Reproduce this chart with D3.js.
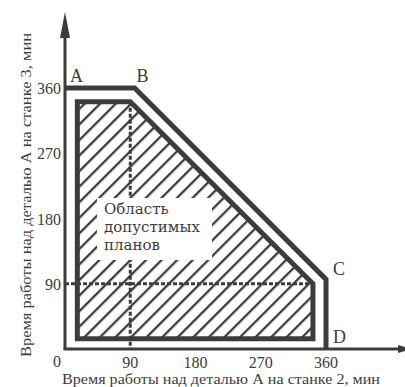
<!DOCTYPE html>
<html><head><meta charset="utf-8">
<script src="https://cdn.jsdelivr.net/npm/d3@7"></script>
<style>html,body{margin:0;padding:0;background:#fff}svg{display:block}
text{font-family:"Liberation Serif",serif}
text.rl{font-family:"DejaVu Serif",serif}</style>
</head><body>
<script>
// Data
const tickValues = [90, 180, 270, 360];
const tickLabels = ["90", "180", "270", "360"];
const outerX = [0, 96, 360, 360];      // A, B, C, D
const outerY = [360, 360, 96, 0];
const pointNames = ["A", "B", "C", "D"];
const innerX = [17, 17, 90, 342, 342];
const innerY = [14, 341, 341, 90, 14];
const dashVX = [90, 90];
const dashVY = [341, 0];
const dashHX = [0, 342];
const dashHY = [90, 90];
const regionLabel = ["Область", "допустимых", "планов"];
const xTitle = "Время работы над деталью А на станке  2, мин";
const yTitle = "Время работы над деталью А на станке  3, мин";

const W = 405, H = 387, C = "#3c3c3c";
const svg = d3.select("body").append("svg").attr("width", W).attr("height", H);
const x = d3.scaleLinear().domain([0, 360]).range([65, 326]);
const y = d3.scaleLinear().domain([0, 360]).range([349, 88]);

const defs = svg.append("defs");
const pat = defs.append("pattern").attr("id", "hatch").attr("patternUnits", "userSpaceOnUse")
  .attr("width", 11).attr("height", 11).attr("patternTransform", "rotate(45)");
pat.append("rect").attr("x", 0).attr("y", 0).attr("width", 2.3).attr("height", 11).attr("fill", C);

const line = d3.line().x(d => x(d[0])).y(d => y(d[1]));
const inner = innerX.map((v, i) => [v, innerY[i]]);

svg.append("path").attr("d", line(inner) + "Z").attr("fill", "url(#hatch)");

svg.append("path").attr("d", line(dashVX.map((v, i) => [v, dashVY[i]])))
  .attr("stroke", C).attr("stroke-width", 3).attr("stroke-dasharray", "4,2").attr("fill", "none");
svg.append("path").attr("d", line(dashHX.map((v, i) => [v, dashHY[i]])))
  .attr("stroke", C).attr("stroke-width", 3).attr("stroke-dasharray", "4,2").attr("fill", "none");

// white box behind the region label (hides hatch and dashed line)
svg.append("rect").attr("x", 97).attr("y", 198).attr("width", 115).attr("height", 62).attr("fill", "#fff");

svg.append("path").attr("d", line(inner) + "Z").attr("fill", "none")
  .attr("stroke", C).attr("stroke-width", 5).attr("stroke-linejoin", "miter");

svg.append("line").attr("x1", x(0)).attr("y1", y(0)).attr("x2", x(0)).attr("y2", 30)
  .attr("stroke", C).attr("stroke-width", 3);
svg.append("path").attr("d", `M${x(0)},12 L${x(0) - 5},38 L${x(0) + 5},38 Z`).attr("fill", C);
svg.append("line").attr("x1", x(0) - 1.5).attr("y1", y(0)).attr("x2", 400).attr("y2", y(0))
  .attr("stroke", C).attr("stroke-width", 3);
svg.append("path").attr("d", `M398,${y(0) - 4} L412,${y(0)} L398,${y(0) + 4} Z`).attr("fill", C);

svg.append("path").attr("d", line(outerX.map((v, i) => [v, outerY[i]])))
  .attr("fill", "none").attr("stroke", C).attr("stroke-width", 5).attr("stroke-linejoin", "miter");

svg.selectAll(".pl").data(pointNames).enter().append("text")
  .attr("x", (d, i) => x(outerX[i]) + [5, 2, 7, 7][i])
  .attr("y", (d, i) => [82, 82, 275, 343][i])
  .style("font-size", "18px").attr("fill", C).text(d => d);

const gx = svg.append("g").style("font-size", "16px").attr("fill", C);
gx.selectAll(".xt").data(tickValues).enter().append("text")
  .attr("x", d => x(d)).attr("y", 368).attr("text-anchor", "middle").text((d, i) => tickLabels[i]);
gx.selectAll(".yt").data(tickValues).enter().append("text")
  .attr("x", 61).attr("y", d => y(d) + 6).attr("text-anchor", "end").text((d, i) => tickLabels[i]);
gx.append("text").attr("x", 57).attr("y", 367).attr("text-anchor", "middle").text("0");

svg.append("text").attr("x", 221).attr("y", 384).attr("text-anchor", "middle")
  .style("font-size", "14px").attr("fill", C)
  .attr("textLength", 318).attr("lengthAdjust", "spacingAndGlyphs").text(xTitle);
svg.append("text").attr("transform", "translate(31,195) rotate(-90)").attr("text-anchor", "middle")
  .style("font-size", "14px").attr("fill", C)
  .attr("textLength", 324).attr("lengthAdjust", "spacingAndGlyphs").text(yTitle);

const rl = svg.append("text").attr("class", "rl").attr("x", 104).attr("y", 214)
  .style("font-size", "15px").attr("fill", C);
rl.selectAll("tspan").data(regionLabel).enter().append("tspan")
  .attr("x", 104).attr("dy", (d, i) => i === 0 ? 0 : 18).text(d => d);
</script>
</body></html>
